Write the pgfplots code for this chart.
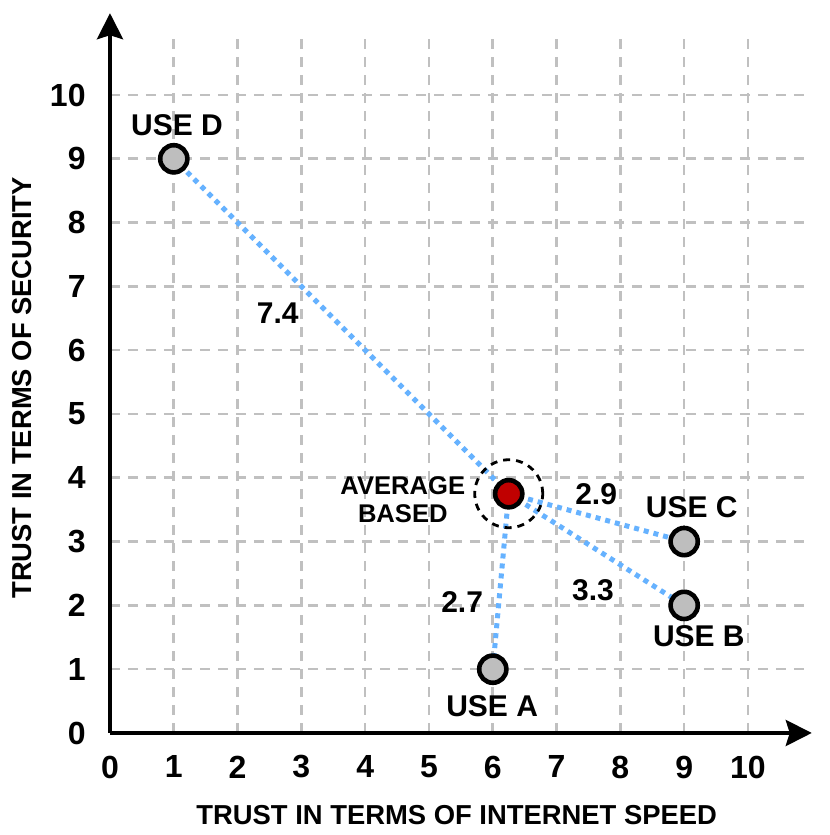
\documentclass[border=0pt]{standalone}
\usepackage{pgfplots}
\pgfplotsset{compat=1.18}
\usepackage{fontspec}
\setmainfont{Liberation Sans}
\usetikzlibrary{arrows.meta}

\definecolor{linkblue}{RGB}{102,178,255}
\definecolor{gridgray}{RGB}{192,192,192}
\definecolor{markgray}{RGB}{190,190,190}
\definecolor{avgred}{RGB}{192,0,0}

\begin{document}
\begin{tikzpicture}
\begin{axis}[
    scale only axis,
    width=350.9pt, height=350.9pt,
    xmin=0, xmax=11, ymin=0, ymax=11,
    axis lines=left,
    axis line style={line width=2pt, -{Stealth[length=13pt, width=13pt, inset=2pt]}},
    y axis line style={shorten >=-9pt},
    xtick={0,...,10}, ytick={0,...,10},
    major tick length=0pt,
    grid=major,
    grid style={gridgray, line width=1.3pt, dash pattern=on 5pt off 4pt},
    clip=false,
    /pgf/number format/assume math mode=true,
    ticklabel style={font=\bfseries\fontsize{16}{18}\selectfont},
    xticklabel style={anchor=center, yshift=-17pt},
    yticklabel style={anchor=east, inner sep=0pt, xshift=-12pt},
    label style={font=\bfseries\fontsize{13.7}{16}\selectfont},
    xlabel={TRUST IN TERMS OF INTERNET SPEED},
    ylabel={TRUST IN TERMS OF SECURITY},
    xlabel style={at={(rel axis cs:0.494,-0.1168)}, anchor=center},
    ylabel style={at={(rel axis cs:-0.1254,0.4918)}, anchor=center},
    nodes={font=\bfseries\fontsize{15}{16}\selectfont},
]
% links from the average point to each use
\addplot[linkblue, line width=2.5pt, dash pattern=on 2.5pt off 2.5pt] coordinates {(6.25,3.75) (1,9)};
\addplot[linkblue, line width=2.5pt, dash pattern=on 2.5pt off 2.5pt] coordinates {(6.25,3.75) (9,3)};
\addplot[linkblue, line width=2.5pt, dash pattern=on 2.5pt off 2.5pt] coordinates {(6.25,3.75) (9,2)};
\addplot[linkblue, line width=2.5pt, dash pattern=on 2.5pt off 2.5pt] coordinates {(6.25,3.75) (6,1)};
% dashed ring round the average
\addplot[only marks, mark=o, mark size=17pt,
    mark options={draw=black, line width=1.4pt, dash pattern=on 3.5pt off 3pt}]
    coordinates {(6.25,3.75)};
% uses
\addplot[only marks, mark=*, mark size=6.8pt,
    mark options={fill=markgray, draw=black, line width=2.3pt, solid}]
    coordinates {(1,9) (9,3) (9,2) (6,1)};
% average
\addplot[only marks, mark=*, mark size=6.8pt,
    mark options={fill=avgred, draw=black, line width=2.3pt, solid}]
    coordinates {(6.25,3.75)};

\node at (axis cs:1.05,9.53) {USE D};
\node at (axis cs:9.12,3.54) {USE C};
\node at (axis cs:9.23,1.52) {USE B};
\node at (axis cs:5.99,0.42) {USE A};
\node[align=center, font=\bfseries\fontsize{12.8}{14}\selectfont] at (axis cs:4.59,3.65) {AVERAGE\\BASED};
\node at (axis cs:2.63,6.58) {7.4};
\node at (axis cs:7.62,3.75) {2.9};
\node at (axis cs:7.57,2.24) {3.3};
\node at (axis cs:5.52,2.05) {2.7};

\path (axis cs:-1.724,-1.599) rectangle (axis cs:11.285,11.489);
\end{axis}
\end{tikzpicture}
\end{document}
